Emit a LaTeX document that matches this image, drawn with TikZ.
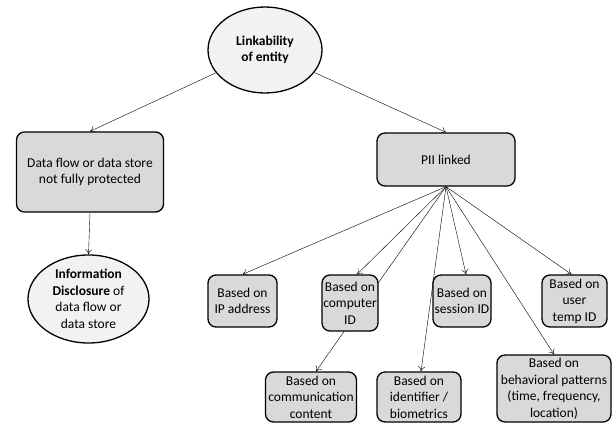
\documentclass[tikz,border=0pt]{standalone}
\usepackage{fontspec}
\setmainfont{Carlito}
\usetikzlibrary{shapes.geometric,backgrounds,arrows.meta}
\definecolor{boxgray}{RGB}{217,217,217}
\definecolor{ellgray}{RGB}{242,242,242}
\tikzset{
  threat/.style={draw, ellipse, fill=ellgray, line width=1.3pt, inner sep=0pt, align=center},
  cause/.style={draw, rounded corners=8pt, fill=boxgray, line width=1.3pt, inner sep=0pt, align=center},
}
\begin{document}
\begin{tikzpicture}[x=1pt, y=-1pt, font=\fontsize{13.5}{16.5}\selectfont]
      \useasboundingbox (0,0) rectangle (616,423);
      \draw
        (265,50) node[threat, minimum width=114pt, minimum height=86pt] (link){\textbf{Linkability}\\\textbf{of entity}}
        (90,172) node[cause, minimum width=147pt, minimum height=80pt] (flow){Data flow or data store\\not fully protected}
        (88.5,299) node[threat, minimum width=121pt, minimum height=88pt] (info){\textbf{Information}\\\textbf{Disclosure} of\\data flow or\\data store}
        (446,159.5) node[cause, minimum width=138pt, minimum height=53pt] (pii){PII linked}
        (242.5,301) node[cause, minimum width=69pt, minimum height=52pt] (ip){Based on\\IP address}
        (350,303) node[cause, minimum width=56pt, minimum height=56pt] (cid){Based on\\computer\\ID}
        (462,301) node[cause, minimum width=58pt, minimum height=52pt] (sess){Based on\\session ID}
        (574.5,301) node[cause, minimum width=65pt, minimum height=52pt] (utemp){Based on\\user\\temp ID}
        (311,397) node[cause, minimum width=91pt, minimum height=50pt] (comm){Based on\\communication\\content}
        (419,397) node[cause, minimum width=84pt, minimum height=50pt] (ident){Based on\\identifier /\\biometrics}
        (554,388.5) node[cause, minimum width=114pt, minimum height=67pt] (behav){Based on\\behavioral patterns\\(time, frequency,\\location)};
      \begin{scope}[on background layer, -{To[length=5pt,width=7pt]}, line width=1pt]
        \draw (link) to (flow.north);
        \draw (link) to (pii.north);
        \draw (flow.south) to (info.north);
        \draw (pii.south) to (ip.north);
        \draw (pii.south) to ([xshift=7pt]cid.north);
        \draw (pii.south) to ([xshift=5pt]comm.north);
        \draw (pii.south) to ([xshift=2pt]ident.north);
        \draw (pii.south) to ([xshift=4pt]sess.north);
        \draw (pii.south) to (behav.north);
        \draw (pii.south) to ([xshift=-3pt]utemp.north);
      \end{scope}
    \end{tikzpicture}
\end{document}
